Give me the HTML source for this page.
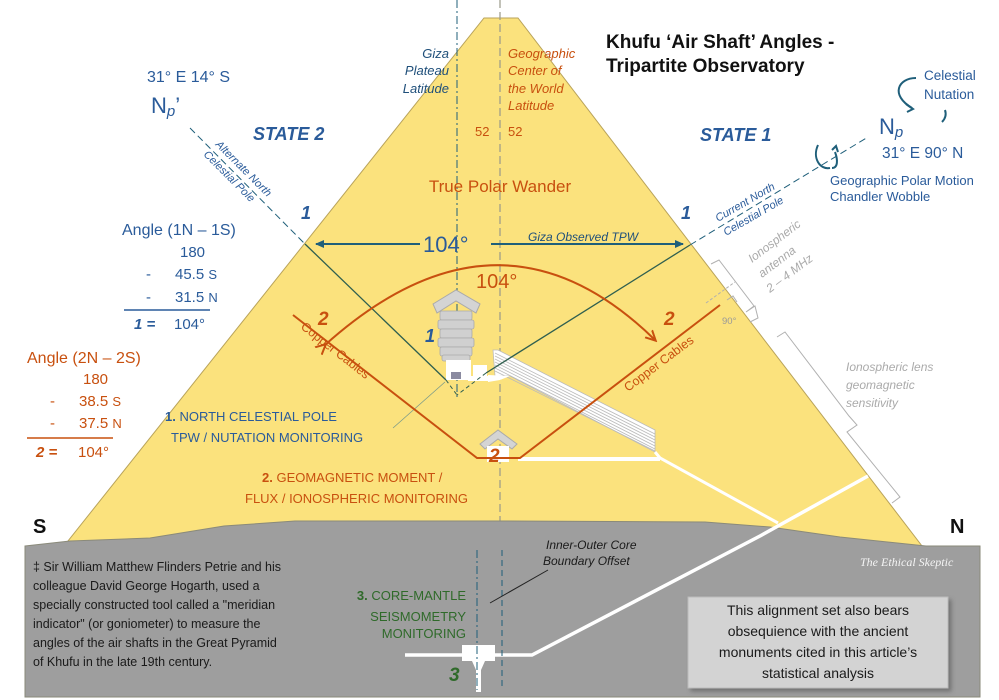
<!DOCTYPE html>
<html><head><meta charset="utf-8"><style>
html,body{margin:0;padding:0;background:#fff;}
svg{display:block;font-family:"Liberation Sans",sans-serif;}
</style></head><body>
<svg width="999" height="700" viewBox="0 0 999 700" xmlns="http://www.w3.org/2000/svg">
<defs>
<marker id="ab" markerWidth="10" markerHeight="10" refX="8" refY="5" orient="auto" markerUnits="userSpaceOnUse"><path d="M0,1 L9,5 L0,9 z" fill="#1f5f7a"/></marker>
<marker id="ao" markerWidth="12" markerHeight="12" refX="9" refY="6" orient="auto" markerUnits="userSpaceOnUse"><path d="M0,1 L10,6 L0,11" fill="none" stroke="#c8500f" stroke-width="2"/></marker>
<filter id="sh" x="-10%" y="-10%" width="130%" height="130%"><feDropShadow dx="3" dy="3" stdDeviation="2" flood-color="#555" flood-opacity="0.6"/></filter>
</defs>
<polygon points="484,18 518,18 922,546 64,546" fill="#fbe27d" stroke="#b9a35a" stroke-width="1"/>
<line x1="457" y1="0" x2="457" y2="400" stroke="#1f5f7a" stroke-width="1" stroke-dasharray="8,3,2,3"/>
<line x1="500" y1="0" x2="500" y2="525" stroke="#9a9a8a" stroke-width="1.2" stroke-dasharray="8,4"/>
<polygon points="25,546 70,541 150,538 224,526 295,521 500,521 705,522 770,527 840,537 926,546 980,546 980,697 25,697" fill="#9e9e9e" stroke="#8a8a7a" stroke-width="1"/>
<polyline points="868,476 760,536 532,655 405,655" fill="none" stroke="#fff" stroke-width="3.5"/>
<rect x="462" y="645" width="33" height="16" fill="#fff"/>
<path d="M472,661 L485,661 L481,670 L481,692 L476,692 L476,670 Z" fill="#fff"/>
<line x1="477" y1="550" x2="477" y2="690" stroke="#1f5f7a" stroke-width="1" stroke-dasharray="8,3,2,3"/>
<line x1="502" y1="550" x2="502" y2="690" stroke="#1f5f7a" stroke-width="1" stroke-dasharray="6,4"/>
<polygon points="493,350 498,350 655,430 655,452 510,376 495,376" fill="#fff" stroke="#bbb" stroke-width="0.8"/>
<g stroke="#bbb" stroke-width="0.8">
<line x1="495" y1="353" x2="655" y2="434"/><line x1="495" y1="356" x2="655" y2="437"/><line x1="495" y1="359" x2="655" y2="440"/><line x1="495" y1="362" x2="655" y2="443"/><line x1="495" y1="365" x2="655" y2="446"/><line x1="495" y1="368" x2="655" y2="449"/><line x1="495" y1="371" x2="655" y2="451"/>
</g>
<polyline points="655,452 660,458 778,523" fill="none" stroke="#fff" stroke-width="3"/>
<rect x="518" y="457" width="142" height="4" fill="#fff"/>
<polygon points="488,375 510,376 500,380 488,382" fill="#fff"/>
<polygon points="433,304 456,290 480,304 476,313 456,301 437,313" fill="#d4d4d4" stroke="#aaa"/>
<g fill="#d0d0d0" stroke="#aaa" stroke-width="0.8">
<rect x="440" y="311" width="32" height="9" rx="2"/><rect x="438" y="320" width="36" height="9" rx="2"/><rect x="440" y="329" width="32" height="9" rx="2"/><rect x="438" y="338" width="36" height="9" rx="2"/><rect x="440" y="347" width="32" height="9" rx="2"/><rect x="442" y="355" width="28" height="6" rx="2"/>
</g>
<rect x="446" y="360" width="25" height="20" fill="#fff"/>
<rect x="451" y="372" width="10" height="7" fill="#8a8aa0"/>
<rect x="473" y="365" width="14" height="14" fill="#fff"/>
<rect x="468" y="376" width="25" height="5" fill="#fff"/>
<polygon points="480,444 498,430 517,444 512,449 498,439 485,449" fill="#d4d4d4" stroke="#aaa"/>
<rect x="487" y="446" width="22" height="16" fill="#fff"/>
<line x1="190" y1="128" x2="305" y2="244" stroke="#1f5f7a" stroke-width="1" stroke-dasharray="7,4"/>
<line x1="305" y1="244" x2="446" y2="380" stroke="#2f5f4f" stroke-width="1.3"/>
<line x1="446" y1="380" x2="457" y2="395" stroke="#2f5f4f" stroke-width="1" stroke-dasharray="4,3"/>
<line x1="690" y1="245" x2="486" y2="373" stroke="#2f5f4f" stroke-width="1.3"/>
<line x1="486" y1="373" x2="457" y2="395" stroke="#2f5f4f" stroke-width="1" stroke-dasharray="4,3"/>
<line x1="690" y1="245" x2="868" y2="137" stroke="#1f5f7a" stroke-width="1" stroke-dasharray="7,4"/>
<line x1="445" y1="382" x2="393" y2="428" stroke="#7a9a8a" stroke-width="0.8"/>
<polyline points="293,315 477,458 520,458 720,305" fill="none" stroke="#c8500f" stroke-width="2"/>
<path d="M325,345 Q500,188 655,340" fill="none" stroke="#c8500f" stroke-width="2" marker-end="url(#ao)" marker-start="url(#ao)"/>
<line x1="420" y1="244" x2="316" y2="244" stroke="#1f5f7a" stroke-width="2" marker-end="url(#ab)"/>
<line x1="491" y1="244" x2="683" y2="244" stroke="#1f5f7a" stroke-width="2" marker-end="url(#ab)"/>
<g fill="none" stroke="#b0b0b0" stroke-width="1">
<polyline points="711,264 719,260 754,306 746,312 755,306 758,318 750,322"/>
<polyline points="777,337 785,332 849,416 857,425 847,432 900,497 892,503"/>
<polyline points="706,303 735,282" stroke-dasharray="3,2"/>
<polyline points="727,300 733,296 737,302"/>
</g>
<g fill="none" stroke="#1f5f7a" stroke-width="2">
<path d="M916,78 C898,78 890,95 912,108"/><path d="M906,104 L913,109 L907,112"/>
<path d="M945,110 C947,116 944,120 942,122"/>
<path d="M818,145 C812,158 820,170 830,168"/><path d="M835,152 C838,160 838,168 832,168"/><path d="M832,150 L836,146 L838,152"/>
</g>
<g font-weight="bold" fill="#111" font-size="19">
<text x="606" y="48">Khufu ‘Air Shaft’ Angles -</text>
<text x="606" y="72">Tripartite Observatory</text>
</g>
<g fill="#2a5b9a">
<text x="147" y="82" font-size="16">31° E  14° S</text>
<text x="151" y="113" font-size="22">N<tspan font-size="15" font-style="italic" dy="3">p</tspan><tspan dy="-3">’</tspan></text>
<text x="253" y="140" font-size="18" font-weight="bold" font-style="italic">STATE 2</text>
<text x="700" y="141" font-size="18" font-weight="bold" font-style="italic">STATE 1</text>
<text x="879" y="134" font-size="22">N<tspan font-size="15" font-style="italic" dy="3">p</tspan></text>
<text x="882" y="158" font-size="15.5">31° E  90° N</text>
<text x="924" y="80" font-size="13.5">Celestial</text>
<text x="924" y="99" font-size="13.5">Nutation</text>
<text x="830" y="185" font-size="13">Geographic Polar Motion</text>
<text x="830" y="201" font-size="13">Chandler Wobble</text>
<g font-size="18" font-weight="bold" font-style="italic"><text x="301" y="219">1</text><text x="681" y="219">1</text><text x="425" y="342">1</text></g>
<text x="423" y="252" font-size="22">104°</text>
<text x="528" y="241" font-size="12" font-style="italic" fill="#1f4f7a">Giza Observed TPW</text>
<text transform="translate(215,145) rotate(45)" font-size="11" font-style="italic">Alternate North</text>
<text transform="translate(203,155) rotate(45)" font-size="11" font-style="italic">Celestial Pole</text>
<text transform="translate(718,222) rotate(-30)" font-size="11" font-style="italic">Current North</text>
<text transform="translate(726,236) rotate(-30)" font-size="11" font-style="italic">Celestial Pole</text>
<text x="122" y="235" font-size="16">Angle (1N – 1S)</text>
<text x="180" y="257" font-size="15">180</text>
<text x="146" y="279" font-size="15">-</text><text x="175" y="279" font-size="15">45.5 <tspan font-size="13">S</tspan></text>
<text x="146" y="302" font-size="15">-</text><text x="175" y="302" font-size="15">31.5 <tspan font-size="13">N</tspan></text>
<line x1="124" y1="310" x2="210" y2="310" stroke="#2a5b9a" stroke-width="1.5"/>
<text x="134" y="329" font-size="15" font-weight="bold" font-style="italic">1 =</text><text x="174" y="329" font-size="15">104°</text>
<text x="165" y="421" font-size="13"><tspan font-weight="bold">1.</tspan> NORTH CELESTIAL POLE</text>
<text x="171" y="442" font-size="13">TPW / NUTATION MONITORING</text>
</g>
<g fill="#1f4f7a" font-style="italic" font-size="13" text-anchor="end">
<text x="449" y="58">Giza</text><text x="449" y="75">Plateau</text><text x="449" y="93">Latitude</text>
</g>
<g fill="#c8500f">
<g font-style="italic" font-size="13"><text x="508" y="58">Geographic</text><text x="508" y="75">Center of</text><text x="508" y="93">the World</text><text x="508" y="110">Latitude</text></g>
<text x="475" y="136" font-size="13">52</text><text x="508" y="136" font-size="13">52</text>
<text x="500" y="192" font-size="17" text-anchor="middle">True Polar Wander</text>
<text x="476" y="288" font-size="20">104°</text>
<g font-size="19" font-weight="bold" font-style="italic"><text x="318" y="325">2</text><text x="664" y="325">2</text><text x="489" y="462">2</text></g>
<text transform="translate(300,328) rotate(38)" font-size="12.5">Copper Cables</text>
<text transform="translate(628,392) rotate(-37)" font-size="12.5">Copper Cables</text>
<text x="27" y="363" font-size="16">Angle (2N – 2S)</text>
<text x="83" y="384" font-size="15">180</text>
<text x="50" y="406" font-size="15">-</text><text x="79" y="406" font-size="15">38.5 <tspan font-size="13">S</tspan></text>
<text x="50" y="428" font-size="15">-</text><text x="79" y="428" font-size="15">37.5 <tspan font-size="13">N</tspan></text>
<line x1="27" y1="438" x2="113" y2="438" stroke="#c8500f" stroke-width="1.5"/>
<text x="36" y="457" font-size="15" font-weight="bold" font-style="italic">2 =</text><text x="78" y="457" font-size="15">104°</text>
<text x="262" y="482" font-size="13"><tspan font-weight="bold">2.</tspan> GEOMAGNETIC MOMENT /</text>
<text x="245" y="503" font-size="13">FLUX / IONOSPHERIC MONITORING</text>
</g>
<g fill="#aaa" font-style="italic" font-size="12">
<text transform="translate(752,263) rotate(-37)">Ionospheric</text>
<text transform="translate(762,278) rotate(-37)">antenna</text>
<text transform="translate(770,293) rotate(-37)">2 – 4 MHz</text>
<text x="846" y="371">Ionospheric lens</text><text x="846" y="389">geomagnetic</text><text x="846" y="407">sensitivity</text>
</g>
<text x="722" y="324" font-size="9.5" fill="#999">90°</text>
<text x="33" y="533" font-size="20" font-weight="bold" fill="#111">S</text>
<text x="950" y="533" font-size="20" font-weight="bold" fill="#111">N</text>
<g font-size="12.5" fill="#1a1a1a">
<text x="33" y="571">‡ Sir William Matthew Flinders Petrie and his</text>
<text x="33" y="590">colleague David George Hogarth, used a</text>
<text x="33" y="609">specially constructed tool called a "meridian</text>
<text x="33" y="628">indicator" (or goniometer) to measure the</text>
<text x="33" y="647">angles of the air shafts in the Great Pyramid</text>
<text x="33" y="666">of Khufu in the late 19th century.</text>
</g>
<g fill="#2f6a2a" font-size="13" text-anchor="end">
<text x="466" y="600"><tspan font-weight="bold">3.</tspan> CORE-MANTLE</text>
<text x="466" y="621">SEISMOMETRY</text>
<text x="466" y="638">MONITORING</text>
</g>
<text x="449" y="681" font-size="19" font-weight="bold" font-style="italic" fill="#2f6a2a">3</text>
<g fill="#1a1a1a" font-style="italic" font-size="12"><text x="546" y="549">Inner-Outer Core</text><text x="543" y="565">Boundary Offset</text></g>
<line x1="548" y1="570" x2="490" y2="603" stroke="#222" stroke-width="1"/>
<text x="860" y="566" font-size="12" font-style="italic" fill="#f4f4f4" font-family="Liberation Serif,serif">The Ethical Skeptic</text>
<rect x="688" y="597" width="260" height="91" fill="#d3d3d3" stroke="#bbb" filter="url(#sh)"/>
<g font-size="14" fill="#1a1a1a" text-anchor="middle">
<text x="818" y="615">This alignment set also bears</text>
<text x="818" y="636">obsequience with the ancient</text>
<text x="818" y="657">monuments cited in this article’s</text>
<text x="818" y="678">statistical analysis</text>
</g>
</svg>
</body></html>
